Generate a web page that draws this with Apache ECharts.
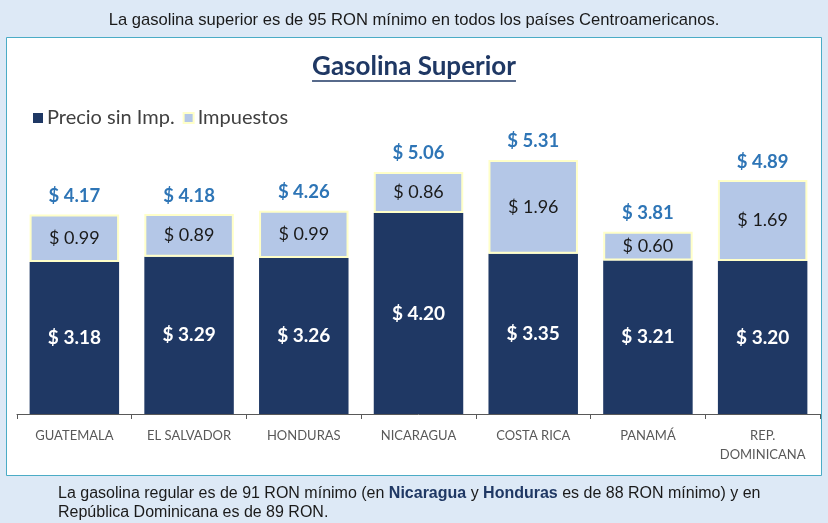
<!DOCTYPE html>
<html>
<head>
<meta charset="utf-8">
<script src="https://cdn.jsdelivr.net/npm/echarts@6/dist/echarts.min.js"></script>
<style>
  html, body { margin: 0; padding: 0; background: #dde9f6; }
  #main { width: 828px; height: 523px; }
</style>
</head>
<body>
<div id="main"></div>
<script>
// datos del gráfico
var paises = ['GUATEMALA', 'EL SALVADOR', 'HONDURAS', 'NICARAGUA', 'COSTA RICA', 'PANAMÁ', 'REP.\nDOMINICANA'];
var precioSinImp = [3.18, 3.29, 3.26, 4.20, 3.35, 3.21, 3.20];
var impuestos = [0.99, 0.89, 0.99, 0.86, 1.96, 0.60, 1.69];
var totales = [4.17, 4.18, 4.26, 5.06, 5.31, 3.81, 4.89];

var fuente = 'Lato, "Open Sans", sans-serif';
var fuenteArial = '"Liberation Sans", Arial, sans-serif';
var tituloTexto = 'Gasolina Superior';
var tituloFont = 'bold 26px ' + fuente;

// medir el título para el subrayado
var ctx = document.createElement('canvas').getContext('2d');
ctx.font = tituloFont;
var anchoTitulo = ctx.measureText(tituloTexto).width;

var myChart = echarts.init(document.getElementById('main'));

function fmt(v) {
    return '$ ' + v.toFixed(2);
}

option = {
    backgroundColor: '#dde9f6',
    animation: false,
    graphic: [
        {
            type: 'rect',
            z: -10,
            shape: { x: 6.5, y: 37.5, width: 815, height: 438 },
            style: { fill: '#ffffff', stroke: '#4bacc6', lineWidth: 1 }
        },
        {
            type: 'text',
            x: 414, y: 20,
            style: {
                text: 'La gasolina superior es de 95 RON mínimo en todos los países Centroamericanos.',
                font: '16.6px ' + fuenteArial,
                fill: '#1a1a1a',
                align: 'center',
                verticalAlign: 'middle'
            }
        },
        {
            type: 'text',
            x: 414, y: 67,
            style: {
                text: tituloTexto,
                font: tituloFont,
                fill: '#1f3864',
                align: 'center',
                verticalAlign: 'middle'
            }
        },
        {
            type: 'line',
            shape: { x1: 414 - anchoTitulo / 2, y1: 81, x2: 414 + anchoTitulo / 2, y2: 81 },
            style: { stroke: '#1f3864', lineWidth: 1.5 }
        },
        {
            type: 'text',
            x: 58, y: 484,
            style: {
                text: 'La gasolina regular es de 91 RON mínimo (en {b|Nicaragua} y {b|Honduras} es de 88 RON mínimo) y en\nRepública Dominicana es de 89 RON.',
                font: '16px ' + fuenteArial,
                fill: '#1a1a1a',
                lineHeight: 19,
                verticalAlign: 'top',
                rich: {
                    b: { font: 'bold 16px ' + fuenteArial, fill: '#1f3864', lineHeight: 19 }
                }
            }
        }
    ],
    legend: {
        left: 28,
        top: 103,
        itemWidth: 10,
        itemHeight: 10,
        itemGap: 8,
        icon: 'rect',
        textStyle: { fontFamily: fuente, fontSize: 20, color: '#404040', padding: [0, 0, 0, -1] },
        data: ['Precio sin Imp.', 'Impuestos']
    },
    grid: {
        left: 17,
        right: 8,
        top: 127,
        bottom: 109
    },
    xAxis: {
        type: 'category',
        data: paises,
        axisLine: { lineStyle: { color: '#595959', width: 1 } },
        axisTick: { show: true, length: 5, lineStyle: { color: '#595959' } },
        axisLabel: {
            fontFamily: fuente,
            fontSize: 13,
            color: '#595959',
            margin: 12,
            lineHeight: 19,
            interval: 0
        }
    },
    yAxis: {
        type: 'value',
        min: 0,
        max: 6,
        show: false,
        splitLine: { show: false }
    },
    series: [
        {
            name: 'Precio sin Imp.',
            type: 'bar',
            stack: 'total',
            barCategoryGap: '22%',
            itemStyle: { color: '#1f3864' },
            label: {
                show: true,
                position: 'inside',
                formatter: function (p) { return fmt(p.value); },
                fontFamily: fuente,
                fontSize: 19,
                fontWeight: 'bold',
                color: '#ffffff'
            },
            data: precioSinImp
        },
        {
            name: 'Impuestos',
            type: 'bar',
            stack: 'total',
            itemStyle: { color: '#b4c7e7', borderColor: '#ffffc8', borderWidth: 2 },
            label: {
                show: true,
                position: 'inside',
                formatter: function (p) { return fmt(p.value); },
                fontFamily: fuente,
                fontSize: 18,
                color: '#1a1a1a'
            },
            data: impuestos
        },
        {
            name: 'Total',
            type: 'bar',
            stack: 'total',
            itemStyle: { color: 'transparent' },
            label: {
                show: true,
                position: 'top',
                distance: 9,
                formatter: function (p) { return fmt(totales[p.dataIndex]); },
                fontFamily: fuente,
                fontSize: 18.5,
                fontWeight: 'bold',
                color: '#2e75b6'
            },
            data: totales.map(function () { return 0; })
        }
    ]
};

myChart.setOption(option);
</script>
</body>
</html>
